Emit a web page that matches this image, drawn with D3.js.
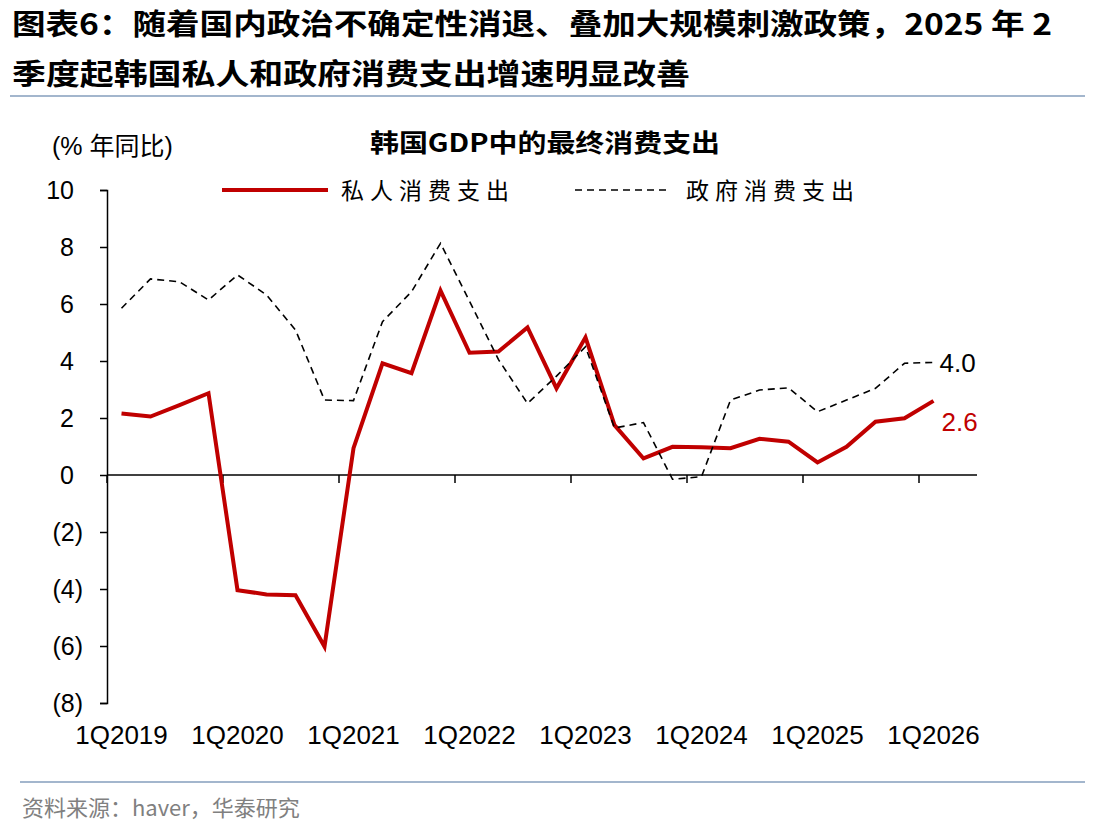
<!DOCTYPE html>
<html>
<head>
<meta charset="utf-8">
<script src="https://cdn.jsdelivr.net/npm/d3@7"></script>
<style>
  body { margin: 0; background: #fff; }
  svg { display: block; font-family: "Liberation Sans", Arial, "Noto Sans CJK SC", sans-serif; }
  .cjk { font-family: "Noto Sans CJK SC", sans-serif; }
</style>
</head>
<body>
<div id="chart"></div>
<script>
// quarters on the category axis (last slot is empty)
var quarters = ["1Q2019","2Q2019","3Q2019","4Q2019","1Q2020","2Q2020","3Q2020","4Q2020",
                "1Q2021","2Q2021","3Q2021","4Q2021","1Q2022","2Q2022","3Q2022","4Q2022",
                "1Q2023","2Q2023","3Q2023","4Q2023","1Q2024","2Q2024","3Q2024","4Q2024",
                "1Q2025","2Q2025","3Q2025","4Q2025","1Q2026","2Q2026"];
var tickQuarters = ["1Q2019","1Q2020","1Q2021","1Q2022","1Q2023","1Q2024","1Q2025","1Q2026"];
var yTicks = [-8,-6,-4,-2,0,2,4,6,8,10];

// % yoy
var privateCons = [2.16, 2.05, 2.45, 2.87, -4.04, -4.19, -4.22, -6.02, 0.94, 3.92, 3.57, 6.47, 4.29, 4.33,
                   5.18, 3.04, 4.83, 1.75, 0.58, 0.99, 0.97, 0.94, 1.27, 1.17, 0.44, 0.99, 1.87, 1.99, 2.6];
var govCons = [5.85, 6.88, 6.78, 6.14, 7.02, 6.32, 5.09, 2.63, 2.61, 5.38, 6.43, 8.13, 6.1, 4.05,
               2.51, 3.47, 4.5, 1.65, 1.84, -0.15, -0.06, 2.63, 2.98, 3.06, 2.22, 2.63, 3.04, 3.92, 3.95];

var seriesNames = ["私人消费支出", "政府消费支出"];
var endLabels = ["2.6", "4.0"];

var width = 1112, height = 836;
var plot = {left: 107, right: 977, top: 190, bottom: 703};

var svg = d3.select("#chart").append("svg")
    .attr("width", width)
    .attr("height", height);

// title
svg.append("text").attr("class", "cjk")
    .attr("x", 12).attr("y", 35)
    .attr("font-size", 29).attr("font-weight", 700)
    .attr("textLength", 1040).attr("lengthAdjust", "spacingAndGlyphs")
    .text("图表6：随着国内政治不确定性消退、叠加大规模刺激政策，2025 年 2");
svg.append("text").attr("class", "cjk")
    .attr("x", 12).attr("y", 85)
    .attr("font-size", 29).attr("font-weight", 700)
    .attr("textLength", 678).attr("lengthAdjust", "spacingAndGlyphs")
    .text("季度起韩国私人和政府消费支出增速明显改善");

svg.append("line")
    .attr("x1", 10).attr("x2", 1085).attr("y1", 96).attr("y2", 96)
    .attr("stroke", "#a3b6cd").attr("stroke-width", 2);
svg.append("line")
    .attr("x1", 20).attr("x2", 1085).attr("y1", 782).attr("y2", 782)
    .attr("stroke", "#a3b6cd").attr("stroke-width", 2);

svg.append("text").attr("class", "cjk")
    .attr("x", 22).attr("y", 816)
    .attr("font-size", 22).attr("fill", "#808080")
    .text("资料来源：haver，华泰研究");

// chart headers
svg.append("text")
    .attr("x", 52).attr("y", 155)
    .attr("font-size", 25)
    .text("(% 年同比)");
svg.append("text").attr("class", "cjk")
    .attr("x", 370).attr("y", 152)
    .attr("font-size", 25).attr("font-weight", 700)
    .attr("textLength", 350).attr("lengthAdjust", "spacingAndGlyphs")
    .text("韩国GDP中的最终消费支出");

var x = d3.scaleBand()
    .domain(quarters)
    .range([plot.left, plot.right]);
var y = d3.scaleLinear()
    .domain([-8, 10])
    .range([plot.bottom, plot.top]);
var cx = function(i) { return x(quarters[i]) + x.bandwidth() / 2; };

// y axis, positives keep room for the closing bracket
var yAxis = svg.append("g")
    .attr("transform", "translate(" + plot.left + ",0)")
    .call(d3.axisLeft(y).tickValues(yTicks).tickSize(7)
      .tickFormat(function(d) { return d < 0 ? "(" + (-d) + ")" : d; }));
yAxis.selectAll("path, line").attr("stroke", "#000").attr("stroke-width", 1.5);
yAxis.selectAll("text")
    .attr("font-size", 25).attr("fill", "#000")
    .attr("font-family", "Liberation Sans, Arial, sans-serif")
    .attr("x", function(d) { return d < 0 ? -24 : -33; });

// x axis on zero line, ticks between categories
var xAxisLine = svg.append("g");
xAxisLine.append("line")
    .attr("x1", plot.left).attr("x2", plot.right)
    .attr("y1", y(0)).attr("y2", y(0))
    .attr("stroke", "#000").attr("stroke-width", 1.5);
xAxisLine.selectAll(".xtick")
    .data(tickQuarters)
  .enter().append("line")
    .attr("class", "xtick")
    .attr("x1", function(d) { return x(d); }).attr("x2", function(d) { return x(d); })
    .attr("y1", y(0)).attr("y2", y(0) + 8)
    .attr("stroke", "#000").attr("stroke-width", 1.5);

// x labels at bottom
var xAxis = svg.append("g")
    .attr("transform", "translate(0," + plot.bottom + ")")
    .call(d3.axisBottom(x).tickValues(tickQuarters).tickSize(0).tickPadding(23));
xAxis.select(".domain").remove();
xAxis.selectAll("text").attr("font-size", 26).attr("fill", "#000")
    .attr("font-family", "Liberation Sans, Arial, sans-serif");

// lines
var line = d3.line()
    .x(function(d, i) { return cx(i); })
    .y(function(d) { return y(d); });

svg.append("path")
    .datum(privateCons)
    .attr("d", line)
    .attr("fill", "none")
    .attr("stroke", "#c00000")
    .attr("stroke-width", 4)
    .attr("stroke-linejoin", "miter");

svg.append("path")
    .datum(govCons)
    .attr("d", line)
    .attr("fill", "none")
    .attr("stroke", "#000")
    .attr("stroke-width", 1.6)
    .attr("stroke-dasharray", "7,5");

// end labels
var lastI = privateCons.length - 1;
svg.append("text")
    .attr("x", cx(lastI) + 8).attr("y", y(privateCons[lastI]) + 30)
    .attr("font-size", 26).attr("fill", "#c00000")
    .text(endLabels[0]);
svg.append("text")
    .attr("x", cx(lastI) + 6).attr("y", y(govCons[lastI]) + 10)
    .attr("font-size", 26).attr("fill", "#000")
    .text(endLabels[1]);

// legend
var legend = svg.append("g");
legend.append("line")
    .attr("x1", 222).attr("x2", 328).attr("y1", 190).attr("y2", 190)
    .attr("stroke", "#c00000").attr("stroke-width", 4);
legend.append("text").attr("class", "cjk")
    .attr("x", 341).attr("y", 199)
    .attr("font-size", 23).attr("letter-spacing", 6)
    .text(seriesNames[0]);
legend.append("line")
    .attr("x1", 575).attr("x2", 668).attr("y1", 190).attr("y2", 190)
    .attr("stroke", "#000").attr("stroke-width", 1.6)
    .attr("stroke-dasharray", "7,5");
legend.append("text").attr("class", "cjk")
    .attr("x", 686).attr("y", 199)
    .attr("font-size", 23).attr("letter-spacing", 6)
    .text(seriesNames[1]);
</script>
</body>
</html>
